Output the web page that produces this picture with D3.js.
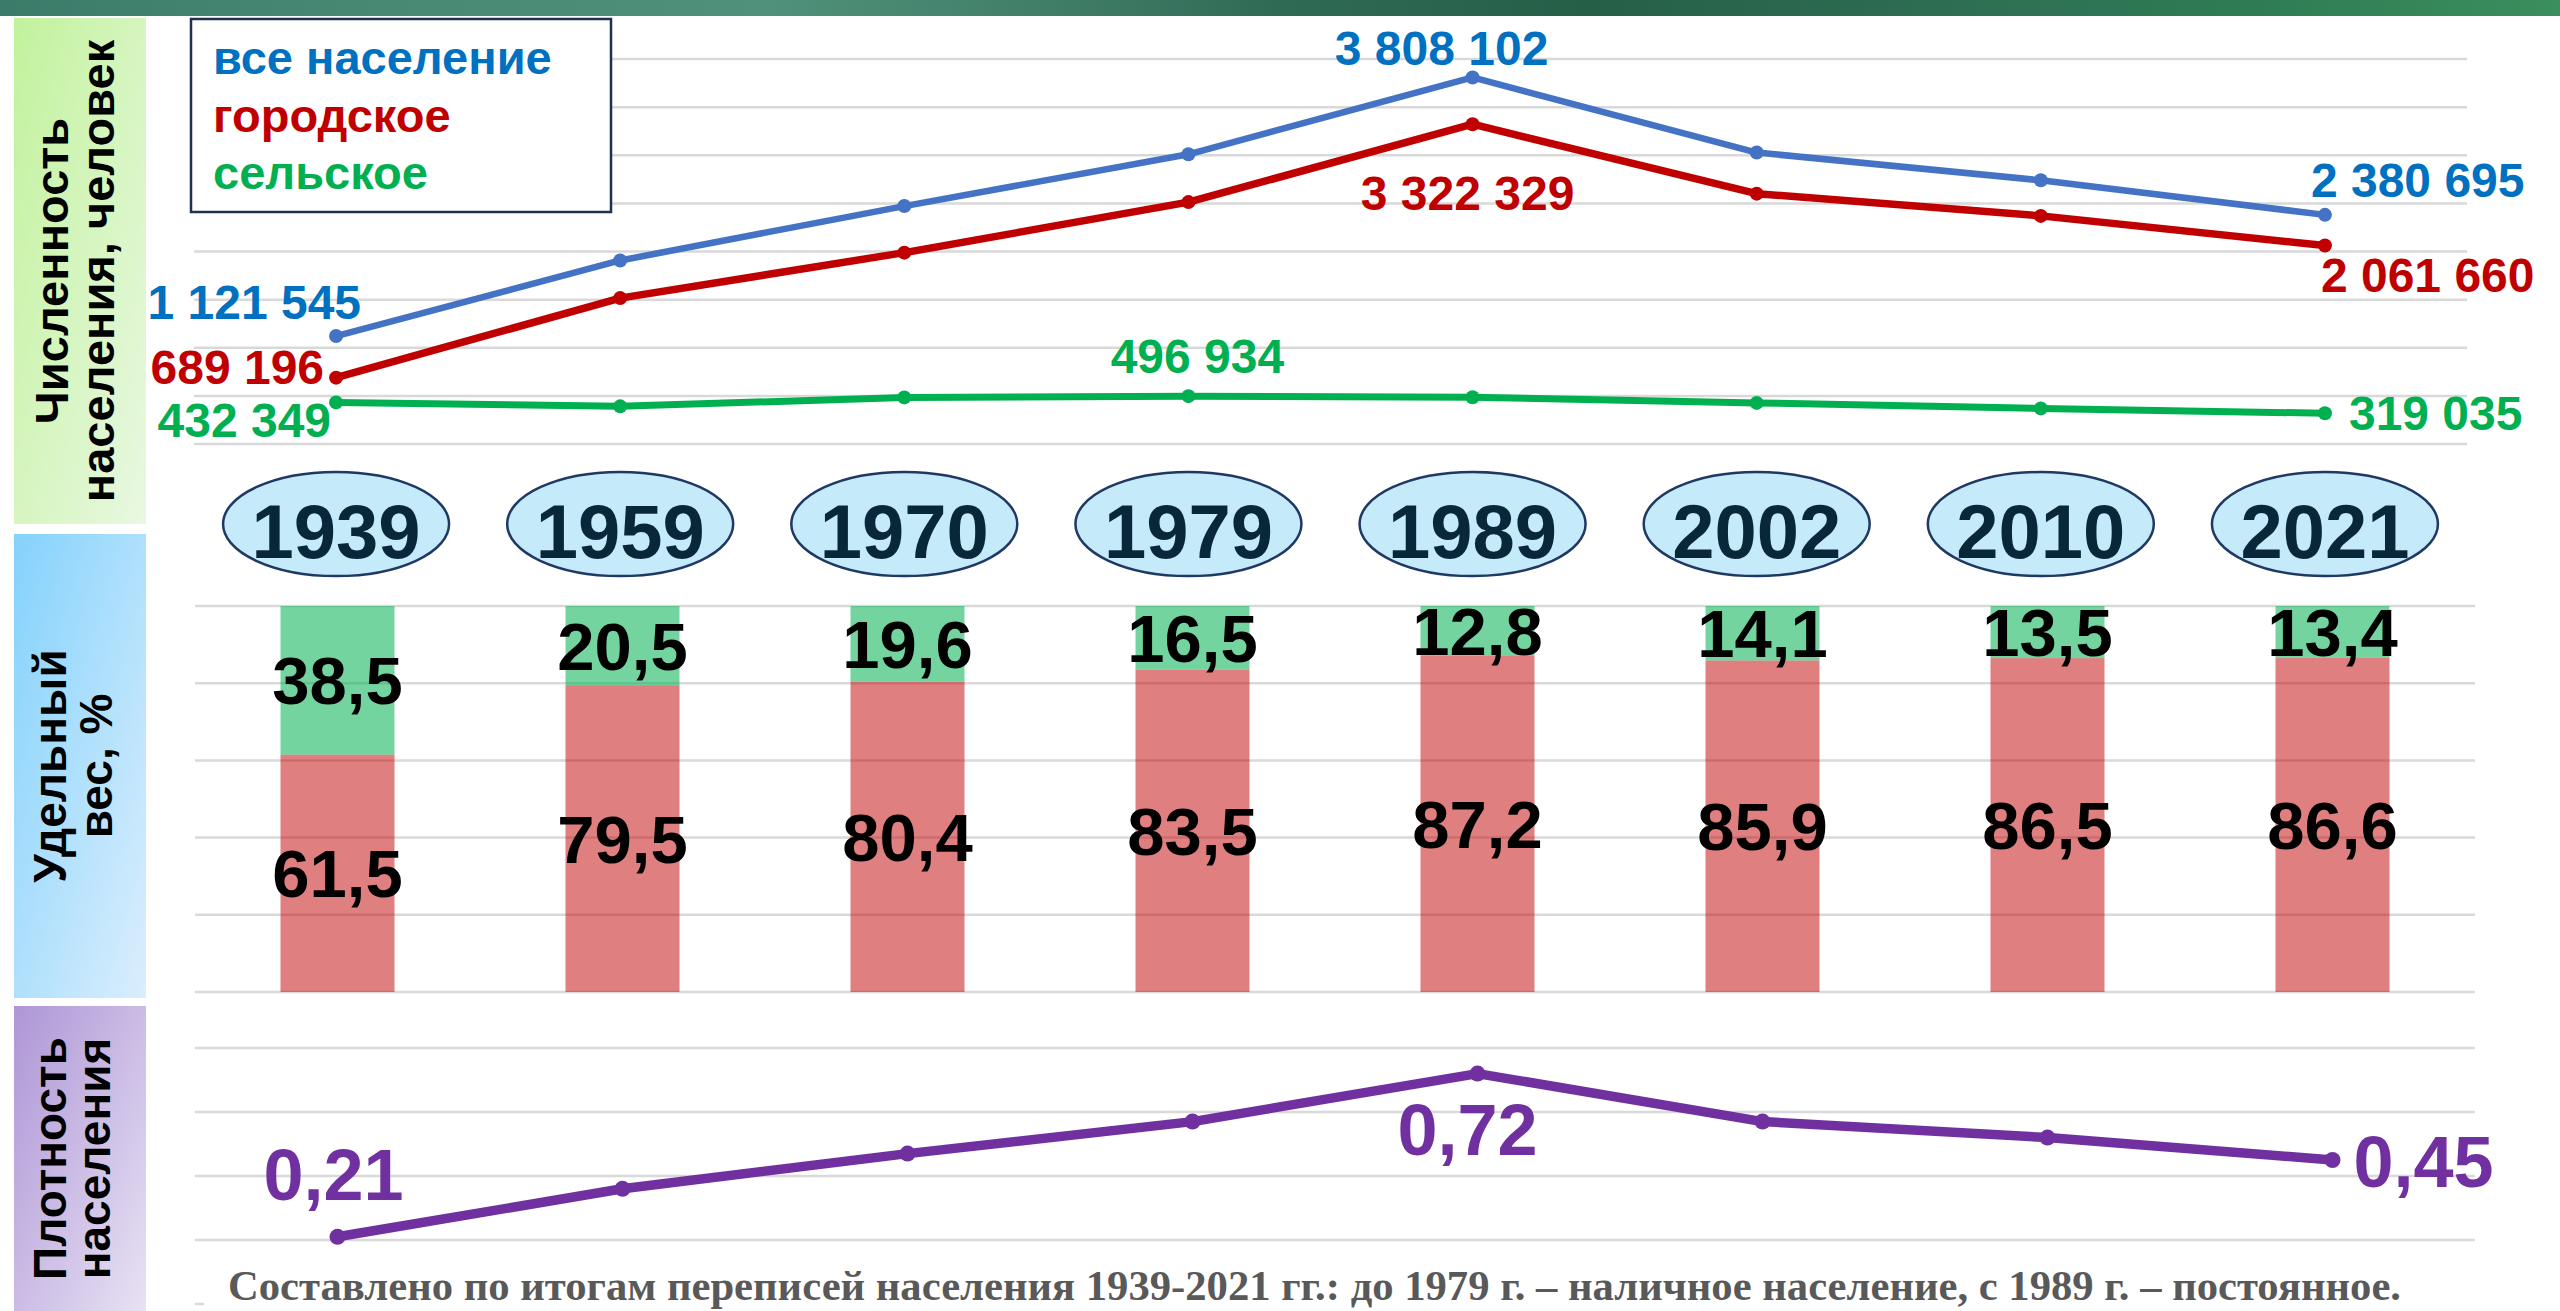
<!DOCTYPE html>
<html>
<head>
    <meta charset="UTF-8"/>
    <style>
        body {
            margin: 0;
            background: #ffffff;
            font-family: "Liberation Sans", Arial, sans-serif;
        }
        svg { display: block; }
    </style>
</head>
<body>
<script src="https://cdn.jsdelivr.net/npm/d3@7"></script>
<div id="chart"></div>
<script>

    // census years
    var years = ["1939", "1959", "1970", "1979", "1989", "2002", "2010", "2021"];

    // population, persons
    var totalPop = [1121545, 1907000, 2472000, 3010000, 3808102, 3028000, 2740000, 2380695];
    var urbanPop = [689196, 1516000, 1988000, 2513000, 3322329, 2601000, 2370000, 2061660];
    var ruralPop = [432349, 391000, 484000, 496934, 485773, 427000, 370000, 319035];

    // share, %
    var urbanShare = [61.5, 79.5, 80.4, 83.5, 87.2, 85.9, 86.5, 86.6];
    var ruralShare = [38.5, 20.5, 19.6, 16.5, 12.8, 14.1, 13.5, 13.4];

    // density, persons per sq km
    var density = [0.21, 0.36, 0.47, 0.57, 0.72, 0.57, 0.52, 0.45];

    var popTicks = [0, 500000, 1000000, 1500000, 2000000, 2500000, 3000000, 3500000, 4000000];
    var shareTicks = [0, 20, 40, 60, 80, 100];
    var densityTicks = [0, 0.2, 0.4, 0.6, 0.8];

    var legendNames = ["все население", "городское", "сельское"];
    var footnote = "Составлено по итогам переписей населения 1939-2021 гг.: до 1979 г. – наличное население, с 1989 г. – постоянное.";

    var width = 2560, height = 1311;

    var ru = d3.formatLocale({decimal: ",", thousands: "\u00a0", grouping: [3], currency: ["", ""]});
    var fmtInt = ru.format(",d"), fmt1 = ru.format(".1f"), fmt2 = ru.format(".2f");

    var svg = d3.select("#chart")
        .append("svg")
        .attr("width", width)
        .attr("height", height);

    var defs = svg.append("defs");

    function diagGradient(id, c0, c1) {
        var g = defs.append("linearGradient").attr("id", id)
            .attr("x1", 0).attr("y1", 0).attr("x2", 1).attr("y2", 1);
        g.append("stop").attr("offset", 0).attr("stop-color", c0);
        g.append("stop").attr("offset", 1).attr("stop-color", c1);
    }
    diagGradient("gPop", "#c2f29c", "#e9f8e2");
    diagGradient("gShare", "#84d2fc", "#dbeefc");
    diagGradient("gDen", "#ae96d6", "#e8e2f4");

    // top banner
    var banner = defs.append("linearGradient").attr("id", "gBanner");
    [[0, "#3a7c69"], [0.15, "#468a74"], [0.3, "#4f917a"], [0.42, "#3f7c66"], [0.5, "#2f6a55"],
     [0.62, "#265f48"], [0.75, "#2d6d52"], [0.88, "#2f7c54"], [1, "#3b8e5e"]].forEach(function(s) {
        banner.append("stop").attr("offset", s[0]).attr("stop-color", s[1]);
    });
    svg.append("rect").attr("x", 0).attr("y", 0).attr("width", width).attr("height", 16)
        .attr("fill", "url(#gBanner)");

    // left side panels with vertical titles
    var panels = [
        {y0: 18, y1: 524, fill: "url(#gPop)", lines: ["Численность", "населения, человек"], size: 47, b: [68, 114]},
        {y0: 534, y1: 998, fill: "url(#gShare)", lines: ["Удельный", "вес, %"], size: 46, b: [66, 112]},
        {y0: 1006, y1: 1311, fill: "url(#gDen)", lines: ["Плотность", "населения"], size: 46, b: [66, 110]}
    ];
    panels.forEach(function(p) {
        svg.append("rect").attr("x", 14).attr("y", p.y0).attr("width", 132).attr("height", p.y1 - p.y0)
            .attr("fill", p.fill);
        var cy = (p.y0 + p.y1) / 2;
        p.lines.forEach(function(t, i) {
            svg.append("text")
                .attr("transform", "translate(" + p.b[i] + "," + cy + ") rotate(-90)")
                .attr("text-anchor", "middle")
                .attr("font-size", p.size + "px")
                .attr("font-weight", "bold")
                .attr("fill", "#000")
                .text(t);
        });
    });

    // ---------- population lines ----------
    var xTop = d3.scalePoint().domain(years).range([194, 2467]).padding(0.5);
    var yTop = d3.scaleLinear().domain([0, 4000000]).range([444, 59]);

    svg.append("g").selectAll("line")
        .data(popTicks).enter().append("line")
        .attr("x1", 194).attr("x2", 2467)
        .attr("y1", function(d) { return yTop(d); })
        .attr("y2", function(d) { return yTop(d); })
        .attr("stroke", "#d9d9d9").attr("stroke-width", 2.5);

    var series = [
        {values: totalPop, line: "#4472c4", label: "#0070c0", w: 6.5},
        {values: urbanPop, line: "#c00000", label: "#c00000", w: 7.5},
        {values: ruralPop, line: "#00b050", label: "#00b050", w: 7}
    ];

    var lineTop = d3.line()
        .x(function(d, i) { return xTop(years[i]); })
        .y(function(d) { return yTop(d); });

    series.forEach(function(s) {
        svg.append("path").datum(s.values)
            .attr("d", lineTop)
            .attr("fill", "none")
            .attr("stroke", s.line)
            .attr("stroke-width", s.w)
            .attr("stroke-linejoin", "round");
        svg.append("g").selectAll("circle")
            .data(s.values).enter().append("circle")
            .attr("cx", function(d, i) { return xTop(years[i]); })
            .attr("cy", function(d) { return yTop(d); })
            .attr("r", 7)
            .attr("fill", s.line);
    });

    // data labels: series, index, anchor, dx, dy
    var popLabels = [
        [0, 0, "end", 25, -17], [1, 0, "end", -12, 6], [2, 0, "end", -5, 35],
        [0, 4, "middle", -31, -12], [1, 4, "middle", -5, 86], [2, 3, "middle", 9, -23],
        [0, 7, "start", -14, -18], [1, 7, "start", -4, 46], [2, 7, "start", 24, 17]
    ];
    svg.append("g").selectAll("text")
        .data(popLabels).enter().append("text")
        .attr("x", function(d) { return xTop(years[d[1]]) + d[3]; })
        .attr("y", function(d) { return yTop(series[d[0]].values[d[1]]) + d[4]; })
        .attr("text-anchor", function(d) { return d[2]; })
        .attr("font-size", "48px")
        .attr("font-weight", "bold")
        .attr("fill", function(d) { return series[d[0]].label; })
        .text(function(d) { return fmtInt(series[d[0]].values[d[1]]); });

    // legend box
    svg.append("rect").attr("x", 191).attr("y", 19).attr("width", 420).attr("height", 193)
        .attr("fill", "#fff").attr("stroke", "#1f3050").attr("stroke-width", 2.5);
    svg.append("g").selectAll("text")
        .data(legendNames).enter().append("text")
        .attr("x", 213)
        .attr("y", function(d, i) { return 74 + i * 57.6; })
        .attr("font-size", "47px")
        .attr("font-weight", "bold")
        .attr("fill", function(d, i) { return series[i].label; })
        .text(function(d) { return d; });

    // year ellipses
    var yearG = svg.append("g").selectAll("g")
        .data(years).enter().append("g")
        .attr("transform", function(d) { return "translate(" + xTop(d) + ",524)"; });
    yearG.append("ellipse")
        .attr("rx", 113).attr("ry", 52)
        .attr("fill", "#c5eafa")
        .attr("stroke", "#1f3864")
        .attr("stroke-width", 2.5);
    yearG.append("text")
        .attr("y", 34)
        .attr("text-anchor", "middle")
        .attr("font-size", "76px")
        .attr("font-weight", "bold")
        .attr("fill", "#08283a")
        .text(function(d) { return d; });

    // ---------- share bars ----------
    var xBar = d3.scaleBand().domain(years).range([195, 2475]).paddingInner(0.6).paddingOuter(0.3);
    var yBar = d3.scaleLinear().domain([0, 100]).range([992, 606]);

    svg.append("g").selectAll("line")
        .data(shareTicks).enter().append("line")
        .attr("x1", 195).attr("x2", 2475)
        .attr("y1", function(d) { return yBar(d); })
        .attr("y2", function(d) { return yBar(d); })
        .attr("stroke", "#d9d9d9").attr("stroke-width", 2.5);

    var shareRows = years.map(function(y, i) { return {year: y, urban: urbanShare[i], rural: ruralShare[i]}; });
    var stacked = d3.stack().keys(["urban", "rural"])(shareRows);
    var barColor = {urban: "#c00000", rural: "#00b050"};
    var barOpacity = {urban: 0.5, rural: 0.55};

    stacked.forEach(function(layer) {
        svg.append("g").selectAll("rect")
            .data(layer).enter().append("rect")
            .attr("x", function(d) { return xBar(d.data.year); })
            .attr("y", function(d) { return yBar(d[1]); })
            .attr("width", xBar.bandwidth())
            .attr("height", function(d) { return yBar(d[0]) - yBar(d[1]); })
            .attr("fill", barColor[layer.key])
            .attr("fill-opacity", barOpacity[layer.key]);
        svg.append("g").selectAll("text")
            .data(layer).enter().append("text")
            .attr("x", function(d) { return xBar(d.data.year) + xBar.bandwidth() / 2; })
            .attr("y", function(d) { return (yBar(d[0]) + yBar(d[1])) / 2 + 24; })
            .attr("text-anchor", "middle")
            .attr("font-size", "67px")
            .attr("font-weight", "bold")
            .attr("fill", "#000")
            .text(function(d) { return fmt1(d.data[layer.key]); });
    });

    // ---------- density line ----------
    var xDen = d3.scalePoint().domain(years).range([195, 2475]).padding(0.5);
    var yDen = d3.scaleLinear().domain([0, 1]).range([1304, 984]);

    svg.append("g").selectAll("line")
        .data(densityTicks).enter().append("line")
        .attr("x1", 195).attr("x2", 2475)
        .attr("y1", function(d) { return yDen(d); })
        .attr("y2", function(d) { return yDen(d); })
        .attr("stroke", "#d9d9d9").attr("stroke-width", 2.5);

    svg.append("path").datum(density)
        .attr("d", d3.line()
            .x(function(d, i) { return xDen(years[i]); })
            .y(function(d) { return yDen(d); }))
        .attr("fill", "none")
        .attr("stroke", "#7030a0")
        .attr("stroke-width", 9.5)
        .attr("stroke-linejoin", "round");
    svg.append("g").selectAll("circle")
        .data(density).enter().append("circle")
        .attr("cx", function(d, i) { return xDen(years[i]); })
        .attr("cy", function(d) { return yDen(d); })
        .attr("r", 8)
        .attr("fill", "#7030a0");

    var denLabels = [[0, "middle", -4, -37], [4, "middle", -10, 81], [7, "start", 21, 27]];
    svg.append("g").selectAll("text")
        .data(denLabels).enter().append("text")
        .attr("x", function(d) { return xDen(years[d[0]]) + d[2]; })
        .attr("y", function(d) { return yDen(density[d[0]]) + d[3]; })
        .attr("text-anchor", function(d) { return d[1]; })
        .attr("font-size", "72px")
        .attr("font-weight", "bold")
        .attr("fill", "#7030a0")
        .text(function(d) { return fmt2(density[d[0]]); });

    // footnote
    svg.append("rect").attr("x", 204).attr("y", 1262).attr("width", 2280).attr("height", 49)
        .attr("fill", "#fff");
    svg.append("text")
        .attr("x", 228).attr("y", 1300)
        .attr("font-family", "'Liberation Serif', 'Times New Roman', serif")
        .attr("font-size", "42px")
        .attr("font-weight", "bold")
        .attr("fill", "#595959")
        .attr("textLength", 2173)
        .attr("lengthAdjust", "spacingAndGlyphs")
        .text(footnote);

</script>
</body>
</html>
